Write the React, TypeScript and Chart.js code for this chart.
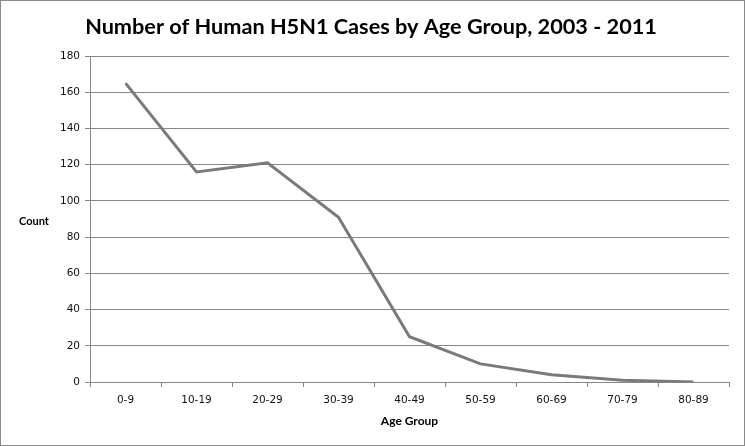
import { useEffect, useRef } from "react";
import { Chart, registerables } from "chart.js";

Chart.register(...registerables);

const TITLE = "Number of Human H5N1 Cases by Age Group, 2003 - 2011";
const Y_TITLE = "Count";
const X_TITLE = "Age Group";
const categories = ["0-9", "10-19", "20-29", "30-39", "40-49", "50-59", "60-69", "70-79", "80-89"];
const cases = [165, 116, 121, 91, 25, 10, 4, 1, 0];
const yMin = 0;
const yMax = 180;
const yStep = 20;

const GRID = "#868686";
const LINE = "#7a7a7a";

const decorPlugin = {
  id: "decor",
  beforeDraw(chart: any) {
    const { ctx, width, height } = chart;
    ctx.save();
    ctx.fillStyle = "#ffffff";
    ctx.fillRect(0, 0, width, height);
    ctx.restore();
  },
  afterDraw(chart: any) {
    const { ctx, width, height, chartArea } = chart;
    ctx.save();
    ctx.strokeStyle = "#8a8a8a";
    ctx.lineWidth = 1;
    ctx.strokeRect(0.5, 0.5, width - 1, height - 1);

    // title, sized to the reference width
    ctx.font = "bold 24px Lato";
    const w = ctx.measureText(TITLE).width;
    const size = (24 * 572) / w;
    ctx.font = `bold ${size.toFixed(2)}px Lato`;
    ctx.fillStyle = "#000000";
    ctx.textAlign = "center";
    ctx.textBaseline = "alphabetic";
    ctx.fillText(TITLE, 371, 34);

    // horizontal y-axis title
    ctx.font = "bold 11px Lato";
    ctx.textAlign = "left";
    ctx.textBaseline = "middle";
    ctx.fillText(Y_TITLE, 19, (chartArea.top + chartArea.bottom) / 2 + 2);
    ctx.restore();
  },
};

export default function App() {
  const ref = useRef<HTMLCanvasElement | null>(null);

  useEffect(() => {
    if (!ref.current) return;
    const chart = new Chart(ref.current, {
      type: "line",
      data: {
        labels: categories,
        datasets: [
          {
            data: cases,
            borderColor: LINE,
            borderWidth: 3,
            pointRadius: 0,
            pointHoverRadius: 0,
            tension: 0,
            fill: false,
          },
        ],
      },
      options: {
        animation: false,
        responsive: false,
        devicePixelRatio: 1,
        layout: { padding: { top: 56, right: 16, left: 0, bottom: 18 } },
        plugins: {
          legend: { display: false },
          title: { display: false },
          tooltip: { enabled: false },
        },
        scales: {
          x: {
            type: "category",
            offset: true,
            grid: {
              offset: true,
              drawOnChartArea: false,
              drawTicks: true,
              tickLength: 5,
              color: GRID,
            },
            border: { display: true, color: GRID, width: 1 },
            ticks: {
              color: "#111111",
              font: { family: "DejaVu Sans", size: 10.5 },
              padding: 7,
              maxRotation: 0,
              autoSkip: false,
            },
            title: {
              display: true,
              text: X_TITLE,
              color: "#000000",
              font: { family: "Lato", size: 12, weight: "bold" },
              padding: { top: 4, bottom: 0 },
            },
            afterFit(scale: any) {
              scale.height = 46;
            },
          },
          y: {
            min: yMin,
            max: yMax,
            grid: {
              color: GRID,
              tickLength: 5,
              drawTicks: true,
            },
            border: { display: true, color: GRID, width: 1 },
            ticks: {
              stepSize: yStep,
              color: "#111111",
              font: { family: "DejaVu Sans", size: 10.5 },
              padding: 5,
            },
            afterFit(scale: any) {
              scale.width = 90;
            },
          },
        },
      },
      plugins: [decorPlugin],
    });
    return () => chart.destroy();
  }, []);

  return (
    <div style={{ position: "fixed", left: 0, top: 0, width: 745, height: 446 }}>
      <canvas ref={ref} width={745} height={446} style={{ width: 745, height: 446, display: "block" }} />
    </div>
  );
}
